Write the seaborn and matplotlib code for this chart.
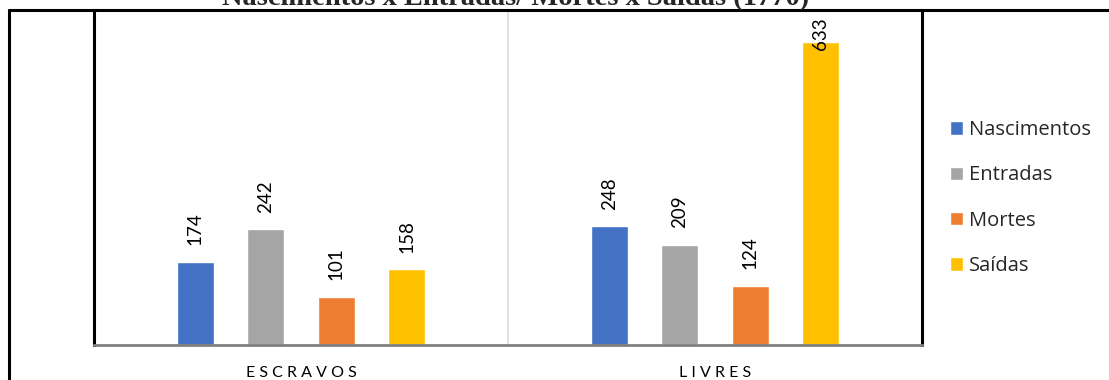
import matplotlib
matplotlib.use("Agg")
import matplotlib.pyplot as plt
from matplotlib.lines import Line2D
import pandas as pd
import seaborn as sns

# Registros de 1770: movimento da população por condição
grupos = ["ESCRAVOS", "LIVRES"]
tipos = ["Nascimentos", "Entradas", "Mortes", "Saídas"]
escravos = [174, 242, 101, 158]
livres = [248, 209, 124, 633]
cores = ["#4472C4", "#A5A5A5", "#ED7D31", "#FFC000"]
titulo = "Nascimentos x Entradas/ Mortes x Saídas (1770)"

df = pd.DataFrame({
    "grupo": [grupos[0]] * len(tipos) + [grupos[1]] * len(tipos),
    "tipo": tipos + tipos,
    "valor": escravos + livres,
})

sns.set_theme(style="white")
plt.rcParams["font.family"] = ["Lato", "DejaVu Sans"]

W, H = 1109, 380
fig = plt.figure(figsize=(W / 100, H / 100), dpi=100)
ax = fig.add_axes([94 / W, 35 / H, (922 - 94) / W, (345 - 10) / H])

sns.barplot(data=df, x="grupo", y="valor", hue="tipo", hue_order=tipos,
            order=grupos, palette=cores, width=0.68, gap=0.476,
            saturation=1, ax=ax, legend=True)

ax.set_ylim(0, 700)
ax.set_xlim(-0.5, 1.5)

# rótulos de valor acima das barras; o mais alto encosta no topo da barra
topo = ax.get_ylim()[1]
for cont in ax.containers:
    for barra in cont:
        v = barra.get_height()
        pad = -6 if v > 0.85 * topo else 12
        ax.annotate(f"{v:.0f}", (barra.get_x() + barra.get_width() / 2, v),
                    xytext=(0, pad), textcoords="offset points",
                    ha="center", va="bottom", rotation=90,
                    fontsize=13.5, color="#000000")

ax.set_yticks([])
ax.set_xlabel("")
ax.set_ylabel("")
ax.set_xticks(range(len(grupos)))
ax.set_xticklabels([" ".join(g) for g in grupos], fontsize=11.5, color="#000000")
ax.tick_params(axis="x", length=0, pad=15)

# linha divisória entre as categorias
ax.set_xticks([0.5], minor=True)
ax.tick_params(axis="x", which="minor", length=0)
ax.grid(True, axis="x", which="minor", color="#D9D9D9", linewidth=1.2)
ax.grid(False, axis="x", which="major")
ax.grid(False, axis="y")

ax.spines["top"].set_visible(False)
ax.spines["left"].set_color("#000000")
ax.spines["left"].set_linewidth(2.2)
ax.spines["right"].set_color("#000000")
ax.spines["right"].set_linewidth(2.2)
ax.spines["bottom"].set_color("#808080")
ax.spines["bottom"].set_linewidth(2.0)

handles, labels = ax.get_legend_handles_labels()
ax.legend(handles, labels, loc="center left",
          bbox_to_anchor=(942 / W, (H - 198) / H), bbox_transform=fig.transFigure,
          frameon=False, prop={"family": "Open Sans", "size": 14.5},
          handlelength=0.65, handleheight=0.65,
          handletextpad=0.3, labelspacing=1.26, borderaxespad=0)

# moldura externa
fig.add_artist(Line2D([9 / W, 9 / W], [0, (H - 10) / H], color="#000000",
                      linewidth=2.2, transform=fig.transFigure))
fig.add_artist(Line2D([9 / W, 1], [(H - 10) / H, (H - 10) / H], color="#000000",
                      linewidth=2.2, transform=fig.transFigure))

fig.text(516 / W, (H - 5) / H, titulo, ha="center", va="baseline",
         fontsize=20.5, fontweight="bold", family="Liberation Serif")

fig.savefig("out.png", dpi=100)
